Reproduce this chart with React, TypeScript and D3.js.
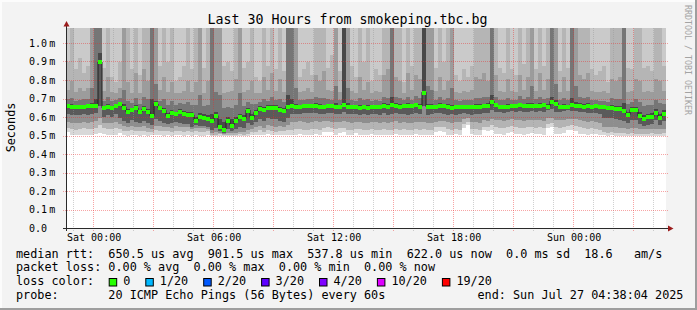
import React from 'react';
import * as d3 from 'd3';

const WIDTH = 697;
const HEIGHT = 310;

const endTime = '2025-07-27T04:38:04Z';
const spanHours = 30;
const stepSeconds = 720;

const title = 'Last 30 Hours from smokeping.tbc.bg';
const yLabel = 'Seconds';
const watermark = 'RRDTOOL / TOBI OETIKER';

// median rtt per 12-minute column (microseconds)
const medianUs = [
  667,660,660,660,660,664,664,664,900,652,
  661,652,663,673,656,630,641,652,630,647,
  632,610,673,652,639,610,628,619,632,623,
  616,614,584,604,602,593,582,610,549,537,
  584,558,584,603,595,640,600,629,650,643,
  656,656,656,643,638,661,665,660,660,663,
  667,667,667,660,660,667,667,660,658,672,
  660,660,660,656,661,656,658,660,660,665,
  660,670,667,660,665,665,663,670,660,737,
  658,660,660,665,665,660,654,661,658,661,
  661,661,661,660,663,665,688,668,662,660,
  659,665,665,670,667,665,665,667,665,668,
  660,688,677,660,660,660,670,667,665,662,
  665,662,665,658,658,656,656,648,648,638,
  616,643,645,609,592,603,605,629,600,623,
];

// sorted ping ranks (of 20) per column, microseconds
const ping1Us = [
  520,505,503,505,508,503,506,510,515,512,
  503,505,508,518,503,502,505,503,502,504,
  502,503,506,503,502,504,502,505,503,502,
  504,502,503,502,502,503,500,500,500,500,
  501,500,500,501,500,502,503,505,508,503,
  512,505,503,506,504,507,506,508,512,507,
  505,508,510,506,522,524,520,508,518,520,
  507,506,515,508,506,505,510,507,506,508,
  505,507,512,506,508,505,506,510,507,508,
  505,506,522,525,523,508,506,510,507,545,
  560,512,508,506,530,528,535,512,510,508,
  515,520,512,510,508,512,515,510,512,508,
  545,550,512,510,515,530,532,528,512,510,
  508,512,510,508,503,502,503,502,501,502,
  501,502,501,501,500,501,502,501,501,502,
];
const ping3Us = [
  545,538,535,540,542,536,540,545,560,545,
  538,540,542,540,528,525,530,527,525,528,
  524,522,532,528,525,527,523,528,526,524,
  527,522,525,523,524,526,506,508,510,505,
  507,506,507,509,508,512,520,524,530,522,
  532,526,524,528,525,530,535,538,540,534,
  532,536,540,535,545,548,544,536,542,545,
  535,534,540,536,533,532,538,535,534,537,
  532,535,540,534,536,532,534,538,535,536,
  532,534,546,548,546,536,534,538,535,565,
  575,540,536,534,550,548,560,548,545,542,
  550,552,546,544,542,546,550,545,546,542,
  565,570,548,545,550,556,558,554,546,544,
  540,542,538,535,520,518,520,516,514,515,
  512,514,513,512,510,512,514,512,511,514,
];
const ping6Us = [
  575,570,568,572,575,570,574,580,600,568,
  572,570,575,565,552,548,556,550,546,552,
  545,540,556,552,548,550,545,552,548,546,
  548,540,545,544,542,540,515,520,518,512,
  516,514,518,522,520,530,540,548,556,545,
  558,552,550,552,548,560,575,578,580,574,
  572,576,580,575,580,582,578,574,578,580,
  574,572,578,574,570,572,576,574,572,576,
  570,574,580,572,574,570,572,576,574,575,
  570,572,578,580,580,574,572,576,574,590,
  596,578,574,572,584,582,592,588,585,582,
  588,590,586,584,582,585,588,584,586,582,
  595,598,586,584,588,592,594,590,584,582,
  578,580,574,570,550,548,550,546,544,545,
  540,542,542,540,536,538,540,538,536,540,
];
const ping9Us = [
  620,615,612,616,618,614,618,625,660,605,
  615,605,618,600,580,572,585,578,570,580,
  570,560,590,580,572,565,568,575,570,566,
  565,548,560,556,552,548,530,545,525,518,
  540,528,540,548,545,570,560,575,590,580,
  595,592,590,580,575,600,620,618,620,622,
  625,626,624,618,620,624,626,618,620,630,
  620,618,620,616,618,615,618,620,616,622,
  616,620,625,620,618,616,620,622,618,660,
  615,620,622,624,618,615,620,616,618,622,
  618,615,618,620,622,625,640,632,630,626,
  632,636,632,634,630,632,635,632,634,628,
  640,645,632,630,634,638,636,634,630,628,
  625,626,622,618,600,598,598,590,588,580,
  568,585,588,565,555,562,566,585,562,580,
];
const ping12Us = [
  675,672,668,668,670,672,680,700,950,662,
  672,662,670,681,672,645,652,665,642,660,
  648,700,690,662,652,625,642,632,645,636,
  632,628,605,622,618,612,620,630,590,575,
  605,590,605,620,612,652,618,642,660,655,
  665,668,665,656,650,720,700,675,668,670,
  675,674,678,672,670,675,674,676,667,1200,
  676,668,668,668,669,668,667,668,668,676,
  672,710,678,672,672,676,671,680,672,1200,
  674,675,668,676,672,672,670,669,666,669,
  669,669,672,672,674,676,720,679,670,668,
  671,673,672,681,675,676,680,675,676,676,
  672,710,692,668,672,668,705,682,676,674,
  676,670,672,666,666,664,668,662,662,680,
  632,655,658,628,612,620,622,644,620,638,
];
const ping14Us = [
  700,705,690,695,700,700,760,1200,1200,690,
  710,688,695,705,750,690,680,705,675,710,
  700,1200,780,690,700,665,690,670,680,672,
  685,668,670,720,660,670,1200,740,720,650,
  655,650,665,730,660,685,675,675,685,700,
  690,710,692,700,685,1200,1200,760,692,695,
  700,698,712,708,705,700,696,770,692,1200,
  760,694,690,705,695,702,690,693,690,710,
  708,1200,712,706,694,710,696,714,706,1200,
  770,750,692,710,696,706,760,692,690,693,
  692,695,708,706,710,712,1200,712,694,692,
  706,696,694,714,698,710,770,698,710,700,
  706,1200,780,692,706,693,1200,770,710,708,
  710,694,696,690,690,686,704,700,700,1200,
  672,685,700,685,660,665,665,695,680,675,
];
const ping16Us = [
  750,800,740,760,745,760,1200,1200,1200,745,
  820,740,735,760,1200,790,735,840,730,860,
  800,1200,1200,750,820,740,790,730,735,745,
  800,740,790,1200,735,800,1200,1200,1200,730,
  740,745,810,1200,740,750,800,735,730,820,
  750,840,745,810,740,1200,1200,1200,740,745,
  760,740,830,800,850,750,745,1200,740,1200,
  1200,745,735,820,750,790,735,745,740,830,
  860,1200,820,800,735,840,750,830,810,1200,
  1200,1200,745,820,750,800,1200,740,735,745,
  740,750,820,810,840,800,1200,830,745,740,
  810,745,740,830,750,820,1200,745,840,750,
  810,1200,1200,740,820,745,1200,1200,830,810,
  840,745,740,740,745,730,810,800,820,1200,
  740,745,810,800,740,745,740,810,800,745,
];
const ping18Us = [
  900,1200,860,920,840,880,1200,1200,1200,870,
  1200,820,790,900,1200,1200,860,1200,830,1200,
  1200,1200,1200,880,1200,900,1200,800,820,880,
  1200,860,1200,1200,870,1200,1200,1200,1200,880,
  900,850,1200,1200,870,900,1200,820,800,1200,
  880,1200,860,1200,850,1200,1200,1200,820,860,
  900,830,1200,1200,1200,870,940,1200,850,1200,
  1200,880,820,1200,900,1200,800,860,830,1200,
  1200,1200,1200,1200,790,1200,880,1200,1200,1200,
  1200,1200,870,1200,900,1200,1200,830,800,860,
  820,880,1200,1200,1200,1200,1200,1200,870,840,
  1200,860,830,1200,890,1200,1200,860,1200,880,
  1200,1200,1200,850,1200,870,1200,1200,1200,1200,
  1200,860,830,850,880,790,1200,1200,1200,1200,
  870,860,1200,1200,870,880,850,1200,1200,880,
];
// highest ranks run above the top of the chart
const ping19Us = [
  1200,1200,1200,1200,1150,1200,1200,1200,1200,1200,
  1200,1200,1120,1200,1200,1200,1200,1200,1200,1200,
  1200,1200,1200,1200,1200,1200,1200,1200,1100,1200,
  1200,1200,1200,1200,1200,1200,1200,1200,1200,1200,
  1200,1200,1200,1200,1200,1200,1200,1100,1100,1200,
  1200,1200,1200,1200,1200,1200,1200,1200,1200,1200,
  1200,1200,1200,1200,1200,1200,1200,1200,1200,1200,
  1200,1200,1200,1200,1200,1200,1200,1200,1200,1200,
  1200,1200,1200,1200,1120,1200,1200,1200,1200,1200,
  1200,1200,1200,1200,1200,1200,1200,1200,1150,1200,
  1200,1200,1200,1200,1200,1200,1200,1200,1200,1200,
  1200,1200,1200,1200,1200,1200,1200,1200,1200,1200,
  1200,1200,1200,1200,1200,1200,1200,1200,1200,1200,
  1200,1200,1200,1200,1200,1120,1200,1200,1200,1200,
  1200,1200,1200,1200,1200,1200,1200,1200,1200,1200,
];

const yTicksUs = [0, 100, 200, 300, 400, 500, 600, 700, 800, 900, 1000];

const legendRtt = 'median rtt:  650.5 us avg  901.5 us max  537.8 us min  622.0 us now  0.0 ms sd  18.6   am/s';
const legendLoss = 'packet loss: 0.00 % avg  0.00 % max  0.00 % min  0.00 % now';
const lossTitle = 'loss color:';
const lossLabels = ['0', '1/20', '2/20', '3/20', '4/20', '10/20', '19/20'];
const lossColors = ['#26ff00', '#00b8ff', '#0059ff', '#5e00ff', '#7e00ff', '#dd00ff', '#ff0000'];
const probeText = 'probe:       20 ICMP Echo Pings (56 Bytes) every 60s';
const endText = 'end: Sun Jul 27 04:38:04 2025';

const MONO = '"DejaVu Sans Mono", monospace';

export default function App() {
  const end = new Date(endTime);
  const start = new Date(end.getTime() - spanHours * 3600 * 1000);
  const x = d3.scaleUtc().domain([start, end]).range([66, 666]);
  const y = d3.scaleLinear().domain([0, 1000]).range([228.5, 43.5]);

  const cols = d3.range(medianUs.length).map((i) => {
    const t0 = new Date(start.getTime() + i * stepSeconds * 1000);
    const t1 = new Date(t0.getTime() + stepSeconds * 1000);
    return { i, x0: x(t0), x1: x(t1) };
  });

  const bands = [
    { lo: ping1Us, hi: medianUs, color: '#d8d8d8' },
    { lo: ping3Us, hi: medianUs, color: '#b4b4b4' },
    { lo: ping6Us, hi: medianUs, color: '#8e8e8e' },
    { lo: ping9Us, hi: medianUs, color: '#5a5a5a' },
    { lo: medianUs, hi: ping19Us, color: '#cacaca' },
    { lo: medianUs, hi: ping18Us, color: '#b5b5b5' },
    { lo: medianUs, hi: ping16Us, color: '#9c9c9c' },
    { lo: medianUs, hi: ping14Us, color: '#767676' },
    { lo: medianUs, hi: ping12Us, color: '#484848' },
  ];

  const hours = d3.utcHour.range(d3.utcHour.ceil(start), end);
  const fmt = d3.utcFormat('%a %H:%M');

  const medPts: [number, number][] = [];
  cols.forEach((c) => {
    medPts.push([c.x0, y(medianUs[c.i])]);
    medPts.push([c.x1, y(medianUs[c.i])]);
  });
  const medPath = d3.line()(medPts) || '';

  const gy = (v: number) => Math.round(y(v) - 0.5) + 0.5;
  const gx = (t: Date) => Math.floor(x(t)) + 0.5;

  // legend swatch layout
  const charW = 7.1;
  const swatches: { sx: number; lx: number; label: string; color: string }[] = [];
  let cur = 108.7;
  lossLabels.forEach((label, k) => {
    swatches.push({ sx: cur, lx: cur + 14.5, label, color: lossColors[k] });
    cur = cur + 14.5 + label.length * charW + 15;
  });

  const legendY = [257.5, 271.4, 285.3, 299.2];

  return (
    <svg
      width={WIDTH}
      height={HEIGHT}
      viewBox={`0 0 ${WIDTH} ${HEIGHT}`}
      style={{ position: 'absolute', left: 0, top: 0, display: 'block' }}
    >
      <defs>
        <clipPath id="plotClip">
          <rect x={67} y={28} width={599} height={200.5} />
        </clipPath>
      </defs>
      <rect x={0} y={0} width={WIDTH} height={HEIGHT} fill="#f3f3f3" />
      <rect x={0} y={0} width={WIDTH} height={2} fill="#fcfcfc" />
      <rect x={0} y={0} width={2} height={HEIGHT} fill="#fcfcfc" />
      <rect x={0} y={HEIGHT - 2} width={WIDTH} height={2} fill="#9e9e9e" />
      <rect x={WIDTH - 2} y={0} width={2} height={HEIGHT} fill="#9e9e9e" />

      <rect x={66} y={28} width={600} height={200.5} fill="#ffffff" />

      <g clipPath="url(#plotClip)" shapeRendering="crispEdges">
        {bands.map((b, bi) => (
          <g key={bi} fill={b.color}>
            {cols.map((c) => {
              const top = y(b.hi[c.i]);
              const bot = y(b.lo[c.i]);
              return (
                <rect key={c.i} x={c.x0} y={top} width={c.x1 - c.x0} height={Math.max(0, bot - top)} />
              );
            })}
          </g>
        ))}
      </g>

      {/* grid */}
      <g strokeDasharray="1 1" strokeWidth={1} fill="none">
        {hours.map((h) => {
          const hr = h.getUTCHours();
          const major = hr % 3 === 0;
          return (
            <line
              key={+h}
              x1={gx(h)}
              x2={gx(h)}
              y1={28}
              y2={231}
              stroke={major ? 'rgba(235,40,40,0.42)' : 'rgba(150,150,150,0.45)'}
            />
          );
        })}
        {yTicksUs.filter((v) => v > 0).map((v) => (
          <line
            key={v}
            x1={63}
            x2={669}
            y1={gy(v)}
            y2={gy(v)}
            stroke="rgba(235,40,40,0.42)"
          />
        ))}
      </g>

      {/* median */}
      <g clipPath="url(#plotClip)">
        <path d={medPath} fill="none" stroke="#202020" strokeWidth={1} />
        <g fill={lossColors[0]} shapeRendering="crispEdges">
          {cols.map((c) => (
            <rect
              key={c.i}
              x={c.x0}
              y={Math.round(y(medianUs[c.i]) - 1.5)}
              width={c.x1 - c.x0}
              height={3.5}
            />
          ))}
        </g>
      </g>

      {/* axes */}
      <line x1={63} x2={668} y1={228.5} y2={228.5} stroke="#2a2a2a" strokeWidth={1} />
      <line x1={66.5} x2={66.5} y1={231} y2={26} stroke="#2a2a2a" strokeWidth={1} />
      <polygon points="66.5,21 63.5,26.5 69.5,26.5" fill="#9b1c1c" />
      <polygon points="673.5,228.5 668,225.5 668,231.5" fill="#9b1c1c" />

      {/* y labels */}
      <g fontFamily={MONO} fontSize={10} fill="#000">
        {yTicksUs.map((v) => (
          <g key={v}>
            <text x={47} y={y(v) + 3.4} textAnchor="end">
              {(v / 1000).toFixed(1)}
            </text>
            {v > 0 && (
              <text x={49.2} y={y(v) + 3.4}>
                m
              </text>
            )}
          </g>
        ))}
      </g>

      {/* x labels */}
      <g fontFamily={MONO} fontSize={10} fill="#000">
        {hours
          .filter((h) => h.getUTCHours() % 6 === 0)
          .map((h) => (
            <text key={+h} x={x(h) + 0.8} y={240.7} textAnchor="middle">
              {fmt(h)}
            </text>
          ))}
      </g>

      {/* title */}
      <text x={347.5} y={24} textAnchor="middle" fontFamily={MONO} fontSize={13.3} fill="#000">
        {title}
      </text>

      {/* y axis title */}
      <text
        transform="translate(15.3,127.5) rotate(-90)"
        textAnchor="middle"
        fontFamily={MONO}
        fontSize={11.8}
        fill="#000"
      >
        {yLabel}
      </text>

      {/* watermark */}
      <text
        transform="translate(685.3,5) rotate(90)"
        fontFamily={MONO}
        fontSize={8.3}
        fill="#a3a3a3"
      >
        {watermark}
      </text>

      {/* legend */}
      <g fontFamily={MONO} fontSize={11.8} fill="#000" style={{ whiteSpace: 'pre' }}>
        <text x={16} y={legendY[0]} xmlSpace="preserve">{legendRtt}</text>
        <text x={16} y={legendY[1]} xmlSpace="preserve">{legendLoss}</text>
        <text x={16} y={legendY[2]} xmlSpace="preserve">{lossTitle}</text>
        {swatches.map((s) => (
          <g key={s.label}>
            <rect x={s.sx + 0.5} y={278.5} width={7.5} height={7.5} fill={s.color} stroke="#000" strokeWidth={1} />
            <text x={s.lx} y={legendY[2]}>{s.label}</text>
          </g>
        ))}
        <text x={16} y={legendY[3]} xmlSpace="preserve">{probeText}</text>
        <text x={477.5} y={legendY[3]} xmlSpace="preserve">{endText}</text>
      </g>
    </svg>
  );
}
